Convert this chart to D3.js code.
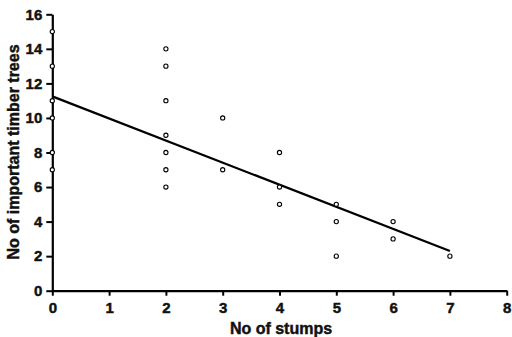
<!DOCTYPE html>
<html><head><meta charset="utf-8">
<script src="https://cdn.jsdelivr.net/npm/d3@7"></script>
<style>body{margin:0;background:#fff}svg{display:block}
text{font-family:'Liberation Sans',Arial,Helvetica,sans-serif;font-weight:700;fill:#111;stroke:#111;stroke-width:0.45px}</style>
</head><body>
<svg id="c" width="512" height="337"></svg>
<script>
const stumps = [0,0,0,0,0,0, 2,2,2,2,2,2,2, 3,3, 4,4,4, 5,5,5, 6,6, 7];
const trees  = [15,13,11,10,8,7, 14,13,11,9,8,7,6, 10,7, 8,6,5, 5,4,2, 4,3, 2];
const trendX = [0, 7];
const trendY = [11.25, 2.3];
const xTicks = [0,1,2,3,4,5,6,7,8];
const yTicks = [0,2,4,6,8,10,12,14,16];
const xTitle = "No of stumps";
const yTitle = "No of important timber trees";

const svg = d3.select("#c");
const x = d3.scaleLinear().domain([0,8]).range([52.3,506.7]);
const y = d3.scaleLinear().domain([0,16]).range([290.7,14.3]);

const xa = svg.append("g").attr("transform",`translate(0,${y(0)})`)
  .call(d3.axisBottom(x).tickValues(xTicks).tickSize(5).tickPadding(7).tickSizeOuter(0));
const ya = svg.append("g").attr("transform",`translate(${x(0)},0)`)
  .call(d3.axisLeft(y).tickValues(yTicks).tickSize(6).tickPadding(4).tickSizeOuter(0));
[xa,ya].forEach(a=>{
  a.attr("font-family",null).attr("font-size",null);
  a.select(".domain").attr("stroke","#000").attr("stroke-width",2.2);
  a.selectAll(".tick line").attr("stroke","#000").attr("stroke-width",2);
  a.selectAll(".tick text").attr("fill","#111").style("font-size","15px");
});

svg.append("line")
  .attr("x1",x(trendX[0])).attr("y1",y(trendY[0]))
  .attr("x2",x(trendX[1])).attr("y2",y(trendY[1]))
  .attr("stroke","#000").attr("stroke-width",2.2);

svg.append("g").selectAll("circle").data(stumps.map((s,i)=>[s,trees[i]]))
  .join("circle").attr("cx",d=>x(d[0])).attr("cy",d=>y(d[1])).attr("r",2.1)
  .attr("fill","#fff").attr("stroke","#000").attr("stroke-width",1.1);

svg.append("text").attr("x",281).attr("y",334).attr("text-anchor","middle")
  .style("font-size","16px").text(xTitle);
svg.append("text").attr("transform","translate(19,152) rotate(-90)").attr("text-anchor","middle")
  .style("font-size","16px").text(yTitle);
</script>
</body></html>
